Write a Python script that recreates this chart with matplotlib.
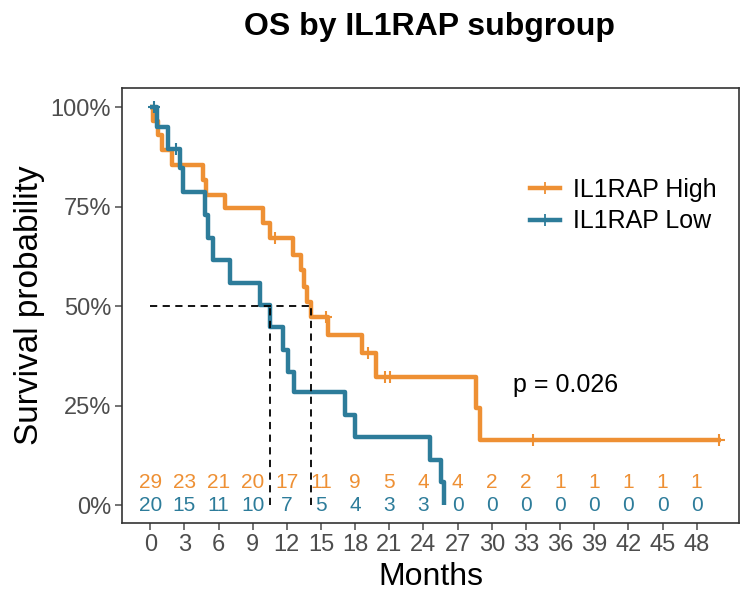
import numpy as np
import matplotlib.pyplot as plt
from matplotlib.lines import Line2D

# Kaplan-Meier steps (months, survival after the drop)
high_t = [0.2, 0.7, 1.0, 1.9, 4.6, 4.9, 6.6, 9.9, 10.5, 12.5, 13.2, 13.5, 13.8, 14.1, 15.6, 18.6, 19.8, 28.6, 29.0]
high_s = [0.965, 0.93, 0.893, 0.855, 0.817, 0.779, 0.746, 0.709, 0.671, 0.628, 0.590, 0.548, 0.510, 0.472, 0.427, 0.382, 0.322, 0.244, 0.163]
high_end = 50.1
high_cens_t = [11.0, 15.4, 19.1, 20.6, 21.1, 33.6, 50.0]
high_cens_s = [0.671, 0.472, 0.382, 0.322, 0.322, 0.163, 0.163]

low_t = [0.6, 1.6, 2.6, 2.9, 4.8, 5.1, 5.5, 7.0, 9.6, 10.5, 11.7, 12.1, 12.6, 17.1, 18.0, 24.6, 25.5, 25.8]
low_s = [0.95, 0.895, 0.848, 0.786, 0.73, 0.671, 0.617, 0.558, 0.502, 0.448, 0.39, 0.335, 0.284, 0.226, 0.171, 0.113, 0.057, 0.0]
low_cens_t = [0.35, 2.3]
low_cens_s = [1.0, 0.895]

# numbers at risk
risk_times = np.arange(0, 49, 3)
risk_high = [29, 23, 21, 20, 17, 11, 9, 5, 4, 4, 2, 2, 1, 1, 1, 1, 1]
risk_low = [20, 15, 11, 10, 7, 5, 4, 3, 3, 0, 0, 0, 0, 0, 0, 0, 0]

median_high = 14.1
median_low = 10.5

c_high = '#EE9034'
c_low = '#2D7C9A'
labels = ['IL1RAP High', 'IL1RAP Low']

plt.rcParams['font.family'] = ['Liberation Sans', 'DejaVu Sans']

fig = plt.figure(figsize=(7.41, 5.91), dpi=100)
ax = fig.add_axes([0.165, 0.115, 0.832, 0.736])

def km_line(t, s, end, color):
    x = np.r_[0, t]
    y = np.r_[1.0, s]
    if end is not None:
        x = np.r_[x, end]
        y = np.r_[y, y[-1]]
    ax.plot(x, y, drawstyle='steps-post', color=color, lw=3.2, solid_capstyle='butt')

km_line(high_t, high_s, high_end, c_high)
km_line(low_t, low_s, None, c_low)
ax.plot(high_cens_t, high_cens_s, '+', color=c_high, ms=9, mew=1.5)
ax.plot(low_cens_t, low_cens_s, '+', color=c_low, ms=9, mew=1.5)

# median lines
ax.plot([0, median_high], [0.5, 0.5], ls=(0, (4, 3)), color='black', lw=1.3)
for m in (median_low, median_high):
    ax.plot([m, m], [0, 0.5], ls=(0, (4, 3)), color='black', lw=1.3)

# risk table inside the plot
for t, a, b in zip(risk_times, risk_high, risk_low):
    ax.text(t, 0.058, str(a), color=c_high, fontsize=15, ha='center', va='center')
    ax.text(t, 0.0, str(b), color=c_low, fontsize=15, ha='center', va='center')

ax.text(31.9, 0.302, 'p = 0.026', fontsize=18, ha='left', va='center')

ax.set_xlim(-2.46, 51.7)
ax.set_ylim(-0.045, 1.048)
ax.set_xticks(risk_times)
ax.set_yticks([0, 0.25, 0.5, 0.75, 1.0])
ax.set_yticklabels(['0%', '25%', '50%', '75%', '100%'])
ax.tick_params(labelsize=17, colors='#4D4D4D', length=5, width=1.1, pad=3)
for sp in ax.spines.values():
    sp.set_color('#333333')
    sp.set_linewidth(1.2)

ax.set_xlabel('Months', fontsize=23, labelpad=4)
ax.set_ylabel('Survival probability', fontsize=24, labelpad=4)

handles = [Line2D([], [], color=c, lw=3.2, marker='+', ms=9, mew=1.3)
           for c in (c_high, c_low)]
ax.legend(handles, labels, loc='upper left', bbox_to_anchor=(0.625, 0.845),
          frameon=False, numpoints=1, fontsize=18, handlelength=1.2,
          handletextpad=0.5, labelspacing=0.3)

fig.text(0.58, 0.955, 'OS by IL1RAP subgroup', fontsize=23, fontweight='bold',
         ha='center', va='center')

fig.savefig('out.png', dpi=100)
